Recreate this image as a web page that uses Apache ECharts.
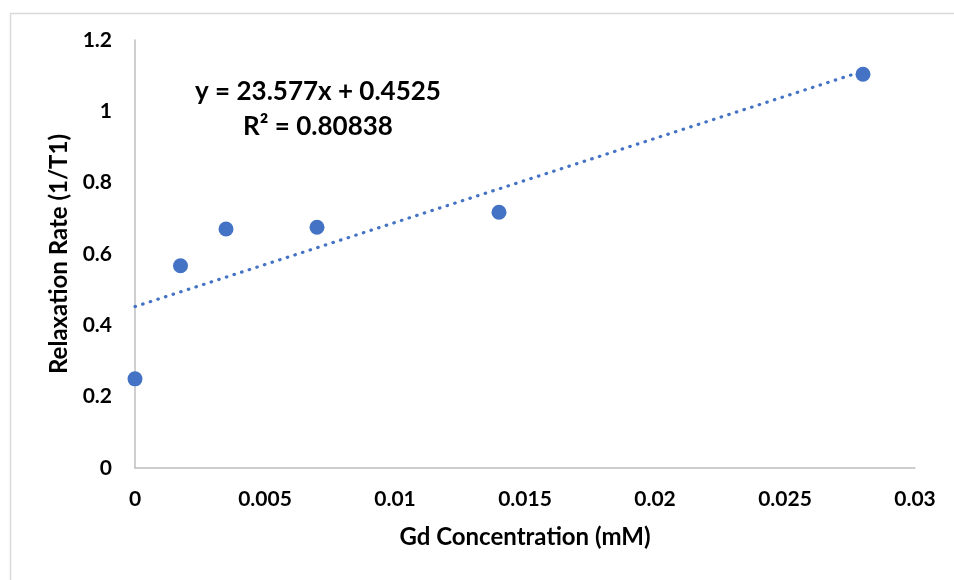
<!DOCTYPE html>
<html>
<head>
<meta charset="utf-8">
<script src="https://cdn.jsdelivr.net/npm/echarts@6/dist/echarts.min.js"></script>
<style>
html,body{margin:0;padding:0;background:#fff;}
#chart{width:954px;height:580px;}
</style>
</head>
<body>
<div id="chart"></div>
<script>
// Data
var gdConc = [0, 0.00175, 0.0035, 0.007, 0.014, 0.028];
var relaxRate = [0.25, 0.567, 0.670, 0.675, 0.717, 1.104];
// Linear trendline endpoints (from displayed equation, across data range)
var trendX = [0, 0.028];
var trendY = [0.4525, 1.1127];
var equationLines = ['y = 23.577x + 0.4525', 'R² = 0.80838'];
var xTitle = 'Gd Concentration (mM)';
var yTitle = 'Relaxation Rate (1/T1)';

var pts = gdConc.map(function (x, i) { return [x, relaxRate[i]]; });
var trend = trendX.map(function (x, i) { return [x, trendY[i]]; });

var FONT = 'Lato, "Open Sans", sans-serif';
var chart = echarts.init(document.getElementById('chart'), null, {renderer: 'canvas'});
chart.setOption({
  animation: false,
  backgroundColor: '#fff',
  grid: {left: 135, right: 39, top: 40, bottom: 112, containLabel: false},
  xAxis: {
    type: 'value', min: 0, max: 0.03, interval: 0.005,
    name: xTitle, nameLocation: 'middle', nameGap: 57,
    nameTextStyle: {fontFamily: FONT, fontWeight: 'bold', fontSize: 24, color: '#000'},
    axisLine: {show: true, lineStyle: {color: '#BFBFBF', width: 1.5}},
    axisTick: {show: false},
    splitLine: {show: false},
    axisLabel: {fontFamily: FONT, fontWeight: 'bold', fontSize: 21, color: '#000', margin: 21,
      formatter: function (v) { return String(+v.toFixed(3)); }}
  },
  yAxis: {
    type: 'value', min: 0, max: 1.2, interval: 0.2,
    name: yTitle, nameLocation: 'middle', nameGap: 64,
    nameTextStyle: {fontFamily: FONT, fontWeight: 'bold', fontSize: 24, color: '#000'},
    axisLine: {show: true, lineStyle: {color: '#BFBFBF', width: 1.5}},
    axisTick: {show: false},
    splitLine: {show: false},
    axisLabel: {fontFamily: FONT, fontWeight: 'bold', fontSize: 21, color: '#000', margin: 23,
      formatter: function (v) { return String(+v.toFixed(1)); }}
  },
  graphic: [
    {type: 'rect', left: 8, top: 11, shape: {width: 1000, height: 700},
      style: {fill: 'none', stroke: '#D9D9D9', lineWidth: 1.5}, z: 0, silent: true},
    {type: 'text', x: 318, y: 92, z: 10,
      style: {text: equationLines[0], fontFamily: FONT, fontWeight: 'bold', fontSize: 26,
        fill: '#000', align: 'center', verticalAlign: 'middle'}},
    {type: 'text', x: 318, y: 127, z: 10,
      style: {text: equationLines[1], fontFamily: FONT, fontWeight: 'bold', fontSize: 26,
        fill: '#000', align: 'center', verticalAlign: 'middle'}}
  ],
  series: [
    {
      type: 'line', data: trend, showSymbol: false, symbol: 'none', z: 2,
      lineStyle: {color: '#4472C4', width: 3.2, type: [0.5, 7.5], cap: 'round'}
    },
    {
      type: 'scatter', data: pts, symbol: 'circle', symbolSize: 15, z: 3,
      itemStyle: {color: '#4472C4', opacity: 1}
    }
  ]
});
</script>
</body>
</html>
